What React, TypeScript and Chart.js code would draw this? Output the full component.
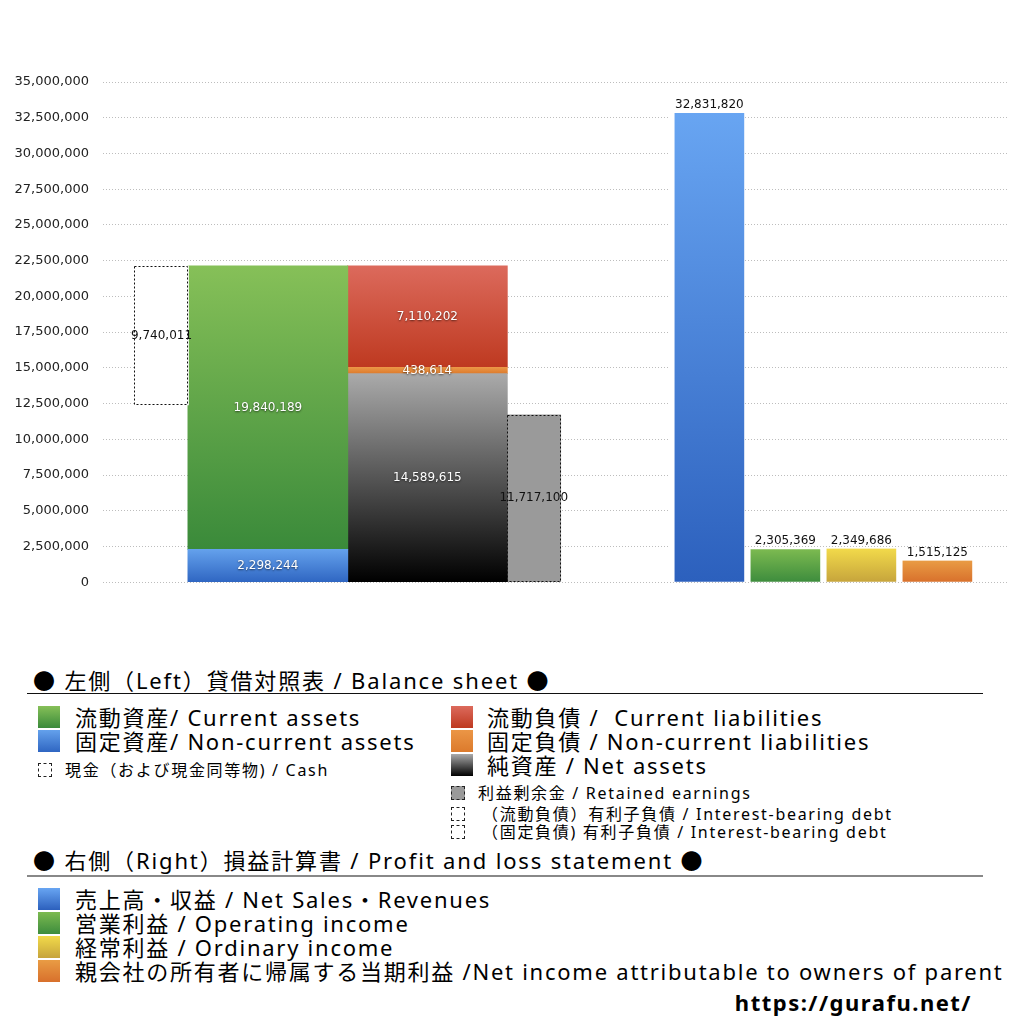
import React, { useEffect, useRef } from "react";
import { Chart, registerables } from "chart.js";

Chart.register(...registerables);

// ---- 貸借対照表 (left side), listed bottom → top ----
const bsColumns = ["現金", "資産", "負債・純資産", "利益剰余金"];
const assetLabels = ["固定資産", "流動資産"];
const assetValues = [2298244, 19840189];
const liabilityLabels = ["純資産", "固定負債", "流動負債"];
const liabilityValues = [14589615, 438614, 7110202];
const cashValues = [9740011];
const retainedValues = [11717100];

// ---- 損益計算書 (right side) ----
const plLabels = ["売上高・収益", "営業利益", "経常利益", "当期利益"];
const plValues = [32831820, 2305369, 2349686, 1515125];

// y axis
const yMax = 35000000;
const yStep = 2500000;

// x layout: a fine category grid, columns sit on these slots
const SLOTS = 85;
const bsSlots = [5, 15, 30, 40];
const plSlot = 67;

const assetColors = [
    ["#64a1ec", "#2f66c2"],
    ["#86c058", "#3a8a3a"],
];
const liabilityColors = [
    ["#aaaaaa", "#000000"],
    ["#eb9646", "#dc7a2c"],
    ["#dc6a5c", "#be3920"],
];
const plColors = [
    ["#68a5f2", "#2c60bd"],
    ["#7cba50", "#3d8c3d"],
    ["#f2da4a", "#c6a43c"],
    ["#e99c44", "#d8702c"],
];

const slotLabels = Array.from({ length: SLOTS }, (_, i) => {
    const c = bsSlots.indexOf(i);
    if (c >= 0) return bsColumns[c];
    return i === plSlot ? "損益計算書" : "";
});

const atSlot = (slot: number, v: any) => Array.from({ length: SLOTS }, (_, k) => (k === slot ? v : null));

const stackSegments = (values: number[]) => {
    let acc = 0;
    return values.map((v) => {
        const seg = [acc, acc + v];
        acc += v;
        return seg;
    });
};

// vertical gradient spanning each bar
const vGrad = (top: string, bottom: string) => (c: any) => {
    const { chart, raw } = c;
    if (!chart.chartArea || raw == null) return bottom;
    const ys = chart.scales.y;
    const [lo, hi] = Array.isArray(raw) ? raw : [0, raw];
    const g = chart.ctx.createLinearGradient(0, ys.getPixelForValue(hi), 0, ys.getPixelForValue(lo));
    g.addColorStop(0, top);
    g.addColorStop(1, bottom);
    return g;
};

// dashed outlines + value labels
const barDecorations = {
    id: "barDecorations",
    afterDatasetsDraw(chart: any) {
        const { ctx } = chart;
        chart.data.datasets.forEach((ds: any, i: number) => {
            const meta = chart.getDatasetMeta(i);
            meta.data.forEach((bar: any, j: number) => {
                const raw = ds.data[j];
                if (raw == null) return;
                const { x, y, base, width } = bar.getProps(["x", "y", "base", "width"], true);
                ctx.save();
                if (ds.dashed) {
                    ctx.setLineDash([2, 2]);
                    ctx.strokeStyle = "#111";
                    ctx.lineWidth = 1;
                    const l = Math.round(x - width / 2) + 0.5;
                    const t = Math.round(y) + 0.5;
                    ctx.strokeRect(l, t, Math.round(width) - 1, Math.round(base - y) - 1);
                    ctx.setLineDash([]);
                }
                const value = Array.isArray(raw) ? raw[1] - raw[0] : raw;
                ctx.font = "12px 'DejaVu Sans'";
                ctx.textAlign = "center";
                if (ds.labelPos === "top") {
                    // centre over the coloured part (side borders are white gaps)
                    const bw = ds.borderWidth || {};
                    const cx = x + ((bw.left || 0) - (bw.right || 0)) / 2;
                    ctx.textBaseline = "bottom";
                    ctx.fillStyle = "#111";
                    ctx.fillText(value.toLocaleString("en-US"), cx, y - 2);
                } else {
                    ctx.textBaseline = "middle";
                    ctx.fillStyle = ds.labelColor;
                    if (ds.labelColor === "#fff") {
                        ctx.shadowColor = "rgba(0,0,0,0.6)";
                        ctx.shadowBlur = 2;
                        ctx.shadowOffsetY = 1;
                    }
                    ctx.fillText(value.toLocaleString("en-US"), x, (y + base) / 2);
                }
                ctx.restore();
            });
        });
    },
};

const grad = (c: string[]) => `linear-gradient(${c[0]}, ${c[1]})`;

const bigFont = { fontSize: 22, lineHeight: "24px", height: 24, letterSpacing: "1.75px" };
const smallFont = { fontSize: 16, lineHeight: "18px", height: 18, letterSpacing: "1.7px" };

const Row: React.FC<{ top: number; left: number; text: string; swatch: React.CSSProperties; gap: number; small?: boolean }> = ({
    top,
    left,
    text,
    swatch,
    gap,
    small,
}) => (
    <div
        style={{
            position: "absolute",
            top,
            left,
            display: "flex",
            alignItems: "center",
            whiteSpace: "pre",
            ...(small ? smallFont : bigFont),
        }}
    >
        <span style={{ display: "inline-block", boxSizing: "border-box", marginRight: gap, flex: "none", ...swatch }} />
        <span>{text}</span>
    </div>
);

const big = (c: string[]) => ({ width: 22, height: 22, background: grad(c) });
const dashedBox = (bg: string) => ({ width: 14, height: 14, background: bg, border: "1px dashed #222" });

const headingStyle: React.CSSProperties = {
    position: "absolute",
    left: 33,
    fontSize: 22,
    lineHeight: "26px",
    whiteSpace: "pre",
    letterSpacing: "1.85px",
};

const App: React.FC = () => {
    const canvasRef = useRef<HTMLCanvasElement | null>(null);
    const chartRef = useRef<Chart | null>(null);

    useEffect(() => {
        document.body.style.margin = "0";
        if (!canvasRef.current) return;
        if (chartRef.current) chartRef.current.destroy();

        const assetSegs = stackSegments(assetValues);
        const liabSegs = stackSegments(liabilityValues);
        const assetsTotal = assetValues.reduce((a, b) => a + b, 0);

        const datasets: any[] = [
            {
                label: bsColumns[0],
                data: atSlot(bsSlots[0], [assetsTotal - cashValues[0], assetsTotal]),
                backgroundColor: "#ffffff",
                barThickness: 54,
                grouped: false,
                dashed: true,
                labelColor: "#111",
            },
            ...assetLabels.map((label, i) => ({
                label,
                data: atSlot(bsSlots[1], assetSegs[i]),
                backgroundColor: vGrad(assetColors[i][0], assetColors[i][1]),
                barThickness: 160,
                grouped: false,
                labelColor: "#fff",
            })),
            ...liabilityLabels.map((label, i) => ({
                label,
                data: atSlot(bsSlots[2], liabSegs[i]),
                backgroundColor: vGrad(liabilityColors[i][0], liabilityColors[i][1]),
                barThickness: 160,
                grouped: false,
                labelColor: "#fff",
            })),
            {
                label: bsColumns[3],
                data: atSlot(bsSlots[3], [0, retainedValues[0]]),
                backgroundColor: "#9a9a9a",
                barThickness: 54,
                grouped: false,
                dashed: true,
                labelColor: "#111",
            },
            ...plLabels.map((label, i) => ({
                label,
                data: atSlot(plSlot, plValues[i]),
                backgroundColor: vGrad(plColors[i][0], plColors[i][1]),
                barThickness: 76,
                grouped: true,
                stack: "pl" + i,
                borderWidth: { left: 6, right: 1, top: 0, bottom: 0 },
                borderColor: "#ffffff",
                borderSkipped: false,
                labelPos: "top",
            })),
        ];

        chartRef.current = new Chart(canvasRef.current, {
            type: "bar",
            data: { labels: slotLabels, datasets },
            options: {
                animation: false,
                responsive: false,
                devicePixelRatio: 1,
                events: [],
                // the y-axis adds (label/2 + tick padding) ≈ 22px below the chart area
                layout: { padding: { top: 82, right: 17, bottom: 14, left: 0 } },
                plugins: { legend: { display: false }, tooltip: { enabled: false } },
                scales: {
                    x: { type: "category", offset: true, display: false },
                    y: {
                        min: 0,
                        max: yMax,
                        afterFit: (s: any) => {
                            s.width = 103;
                        },
                        ticks: {
                            stepSize: yStep,
                            padding: 14,
                            color: "#222",
                            font: { family: "DejaVu Sans", size: 13 },
                            callback: (v: any) => Number(v).toLocaleString("en-US"),
                        },
                        grid: { color: "#bdbdbd", drawTicks: false, lineWidth: 1 },
                        border: { display: false, dash: [1, 2] },
                    },
                },
            } as any,
            plugins: [barDecorations],
        });

        return () => {
            if (chartRef.current) {
                chartRef.current.destroy();
                chartRef.current = null;
            }
        };
    }, []);

    return (
        <div
            style={{
                position: "relative",
                width: 1024,
                height: 1024,
                background: "#fff",
                color: "#000",
                fontFamily: '"Noto Sans", "Noto Sans CJK JP", sans-serif',
            }}
        >
            <canvas ref={canvasRef} width={1024} height={604} style={{ position: "absolute", left: 0, top: 0 }}></canvas>

            {/* 左側 balance sheet legend */}
            <div style={{ ...headingStyle, top: 667 }}>● 左側（Left）貸借対照表 / Balance sheet ●</div>
            <div style={{ position: "absolute", top: 693, left: 27, width: 956, height: 1, background: "#111" }} />

            <Row top={705} left={38} gap={15} text="流動資産/ Current assets" swatch={big(assetColors[1])} />
            <Row top={729} left={38} gap={15} text="固定資産/ Non-current assets" swatch={big(assetColors[0])} />
            <Row top={761} left={38} gap={13} small text="現金（および現金同等物) / Cash" swatch={dashedBox("#fff")} />

            <Row top={705} left={451} gap={14} text="流動負債 /  Current liabilities" swatch={big(liabilityColors[2])} />
            <Row top={729} left={451} gap={14} text="固定負債 / Non-current liabilities" swatch={big(liabilityColors[1])} />
            <Row top={753} left={451} gap={14} text="純資産 / Net assets" swatch={big(liabilityColors[0])} />
            <Row top={784} left={451} gap={13} small text="利益剰余金 / Retained earnings" swatch={dashedBox("#9a9a9a")} />
            <Row top={805} left={451} gap={17} small text="（流動負債）有利子負債 / Interest-bearing debt" swatch={dashedBox("#fff")} />
            <Row top={823} left={451} gap={17} small text="（固定負債) 有利子負債 / Interest-bearing debt" swatch={dashedBox("#fff")} />

            {/* 右側 profit and loss legend */}
            <div style={{ ...headingStyle, top: 847 }}>● 右側（Right）損益計算書 / Profit and loss statement ●</div>
            <div style={{ position: "absolute", top: 875, left: 27, width: 956, height: 2, background: "#888" }} />

            {plLabels.map((_, i) => (
                <Row
                    key={i}
                    top={887 + i * 24}
                    left={38}
                    gap={15}
                    swatch={big(plColors[i])}
                    text={
                        [
                            "売上高・収益 / Net Sales・Revenues",
                            "営業利益 / Operating income",
                            "経常利益 / Ordinary income",
                            "親会社の所有者に帰属する当期利益 /Net income attributable to owners of parent",
                        ][i]
                    }
                />
            ))}

            <div
                style={{
                    position: "absolute",
                    top: 988,
                    right: 52,
                    fontSize: 22,
                    lineHeight: "28px",
                    fontWeight: 700,
                    letterSpacing: "1.5px",
                }}
            >
                https://gurafu.net/
            </div>
        </div>
    );
};

export default App;
